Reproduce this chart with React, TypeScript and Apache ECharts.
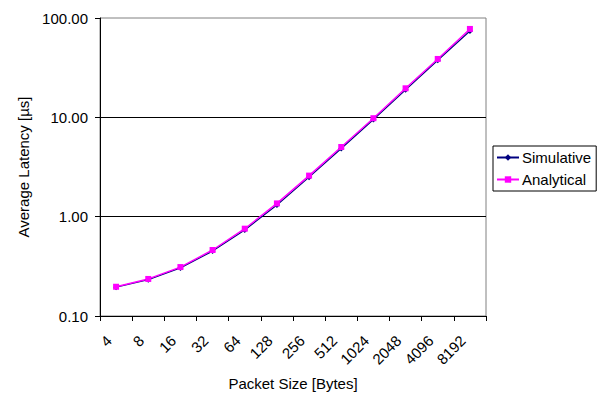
import React, { useEffect, useRef } from "react";
import * as echarts from "echarts";

const categories = ["4", "8", "16", "32", "64", "128", "256", "512", "1024", "2048", "4096", "8192"];
const simulative = [0.195, 0.232, 0.305, 0.45, 0.735, 1.31, 2.5, 4.85, 9.5, 18.9, 37.5, 74];
const analytical = [0.197, 0.236, 0.311, 0.462, 0.757, 1.36, 2.59, 5.03, 9.8, 19.6, 38.7, 77.6];

const FONT = "Liberation Sans, Arial, sans-serif";

export default function App() {
  const ref = useRef<HTMLDivElement>(null);
  useEffect(() => {
    if (!ref.current) return;
    const chart = echarts.init(ref.current, undefined, { renderer: "svg" });
    chart.setOption({
      animation: false,
      backgroundColor: "#ffffff",
      textStyle: { fontFamily: FONT, color: "#000" },
      grid: {
        left: 100,
        right: 114,
        top: 18,
        bottom: 81,
        show: true,
        borderColor: "#808080",
        borderWidth: 1,
        backgroundColor: "transparent",
      },
      legend: {
        orient: "vertical",
        left: 493,
        top: 146,
        padding: [4, 5, 4, 3],
        itemWidth: 22,
        itemHeight: 8,
        itemGap: 7,
        borderColor: "#000",
        borderWidth: 1,
        textStyle: { fontFamily: FONT, fontSize: 15, color: "#000", padding: [0, 0, 0, -2] },
        data: ["Simulative", "Analytical"],
      },
      xAxis: {
        type: "category",
        data: categories,
        boundaryGap: true,
        name: "Packet Size [Bytes]",
        nameLocation: "middle",
        nameGap: 60,
        nameTextStyle: { fontFamily: FONT, fontSize: 15, color: "#000" },
        axisLine: { show: true, lineStyle: { color: "#000", width: 1 } },
        axisTick: { show: true, length: 5, alignWithLabel: false, lineStyle: { color: "#000" } },
        axisLabel: {
          interval: 0,
          rotate: 45,
          margin: 15,
          padding: [0, 10, 0, 0],
          fontFamily: FONT,
          fontSize: 15,
          color: "#000",
        },
        splitLine: { show: false },
      },
      yAxis: {
        type: "log",
        logBase: 10,
        min: 0.1,
        max: 100,
        name: "Average Latency [µs]",
        nameLocation: "middle",
        nameGap: 68,
        nameTextStyle: { fontFamily: FONT, fontSize: 15, color: "#000" },
        axisLine: { show: true, lineStyle: { color: "#000", width: 1 } },
        axisTick: { show: true, length: 5, lineStyle: { color: "#000" } },
        axisLabel: {
          margin: 12,
          fontFamily: FONT,
          fontSize: 15,
          color: "#000",
          formatter: (v: number) => v.toFixed(2),
        },
        splitLine: { show: true, showMinLine: false, showMaxLine: false, lineStyle: { color: "#000", width: 1 } },
        minorTick: { show: false },
      },
      series: [
        {
          name: "Simulative",
          type: "line",
          data: simulative,
          color: "#000080",
          symbol: "diamond",
          symbolSize: 6,
          lineStyle: { color: "#000080", width: 1.2 },
          itemStyle: { color: "#000080" },
        },
        {
          name: "Analytical",
          type: "line",
          data: analytical,
          color: "#FF00FF",
          symbol: "rect",
          symbolSize: 6,
          lineStyle: { color: "#FF00FF", width: 1.4 },
          itemStyle: { color: "#FF00FF" },
        },
      ],
    });
    return () => chart.dispose();
  }, []);
  return <div ref={ref} style={{ position: "fixed", left: 0, top: 0, width: 600, height: 397 }} />;
}
